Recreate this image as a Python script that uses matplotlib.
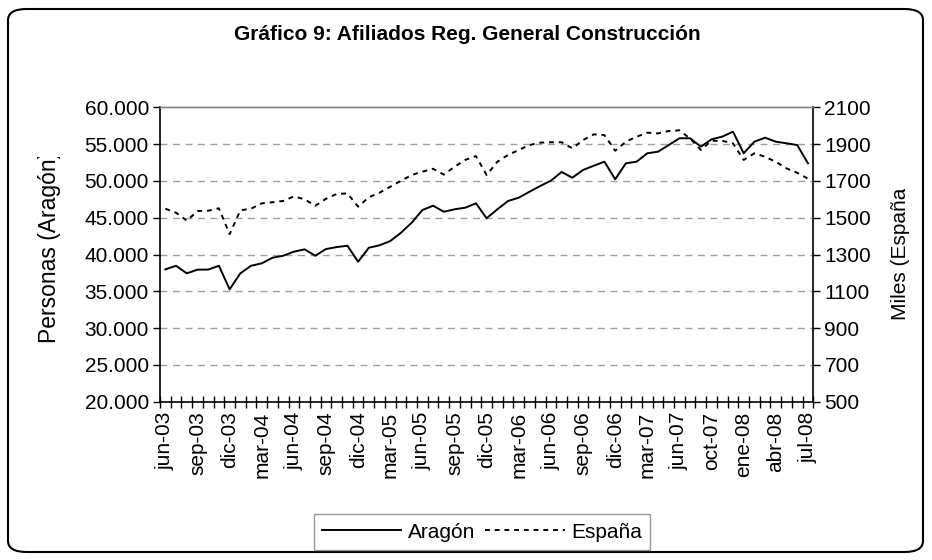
import matplotlib
matplotlib.use('Agg')
import matplotlib.pyplot as plt
from matplotlib.patches import FancyBboxPatch
from matplotlib.transforms import Bbox, TransformedBbox
from matplotlib.lines import Line2D
from matplotlib.ticker import FuncFormatter, FixedLocator

plt.rcParams['font.family'] = ['Liberation Sans', 'DejaVu Sans']

months = ['jun-03', 'jul-03', 'ago-03', 'sep-03', 'oct-03', 'nov-03', 'dic-03',
          'ene-04', 'feb-04', 'mar-04', 'abr-04', 'may-04', 'jun-04', 'jul-04', 'ago-04',
          'sep-04', 'oct-04', 'nov-04', 'dic-04',
          'ene-05', 'feb-05', 'mar-05', 'abr-05', 'may-05', 'jun-05', 'jul-05', 'ago-05',
          'sep-05', 'oct-05', 'nov-05', 'dic-05',
          'ene-06', 'feb-06', 'mar-06', 'abr-06', 'may-06', 'jun-06', 'jul-06', 'ago-06',
          'sep-06', 'oct-06', 'nov-06', 'dic-06',
          'ene-07', 'feb-07', 'mar-07', 'abr-07', 'may-07', 'jun-07', 'jul-07', 'ago-07',
          'oct-07', 'nov-07', 'dic-07',
          'ene-08', 'feb-08', 'mar-08', 'abr-08', 'may-08', 'jun-08', 'jul-08']

aragon = [37980, 38470, 37440, 37940, 37950, 38470, 35270, 37440, 38470, 38800,
          39560, 39830, 40380, 40700, 39830, 40740, 41010, 41190, 39020, 40920,
          41250, 41830, 42960, 44320, 46040, 46630, 45810, 46140, 46360, 46950,
          44920, 46140, 47270, 47720, 48530, 49310, 50030, 51210, 50430, 51480,
          52060, 52610, 50220, 52390, 52610, 53750, 53970, 54870, 55790, 55790,
          54650, 55650, 56010, 56690, 53750, 55330, 55870, 55330, 55110, 54870,
          52390]

espana = [1549, 1527, 1484, 1536, 1538, 1551, 1410, 1540, 1549, 1578,
          1584, 1591, 1616, 1600, 1565, 1603, 1629, 1632, 1560, 1611,
          1636, 1668, 1701, 1732, 1750, 1766, 1734, 1777, 1814, 1835,
          1732, 1804, 1841, 1868, 1895, 1908, 1910, 1910, 1877, 1922,
          1953, 1949, 1864, 1913, 1940, 1962, 1958, 1971, 1975, 1930,
          1868, 1918, 1918, 1904, 1814, 1850, 1831, 1804, 1768, 1744,
          1712]

W, H = 932, 560
FS = 15

fig = plt.figure(figsize=(W / 100, H / 100), dpi=100)

# outer rounded frame
frame = FancyBboxPatch((8 / W, 8 / H), (W - 17) / W, (H - 17) / H,
                       boxstyle="round,pad=0,rounding_size=0.02",
                       transform=fig.transFigure, fill=False,
                       edgecolor='black', linewidth=1.5, zorder=0)
fig.patches.append(frame)

L, R, T, B = 160, 813.3, 107.3, 401.7
ax = fig.add_axes([L / W, 1 - B / H, (R - L) / W, (B - T) / H])
ax2 = ax.twinx()

x = list(range(len(months)))

# grid lines
for v in range(25000, 60000, 5000):
    ax.axhline(v, color='#A0A0A0', linewidth=1.0, linestyle=(0, (5, 4)), zorder=1)

ax.plot(x, aragon, color='black', linewidth=1.4, zorder=3)
ax2.plot(x, espana, color='black', linewidth=1.4, linestyle=(0, (2.5, 2.5)), zorder=3)

ax.set_xlim(-0.5, len(months) - 0.5)
ax.set_ylim(20000, 60000)
ax2.set_ylim(500, 2100)

ax.set_yticks(list(range(20000, 60001, 5000)))
ax.yaxis.set_major_formatter(FuncFormatter(lambda v, p: f"{v:,.0f}".replace(',', '.')))
ax2.set_yticks(list(range(500, 2101, 200)))

lab_idx = list(range(0, len(months), 3))
ax.set_xticks(lab_idx)
ax.set_xticklabels([months[i] for i in lab_idx], rotation=90, fontsize=FS)
ax.xaxis.set_minor_locator(FixedLocator([i - 0.5 for i in range(len(months) + 1)]))
ax.tick_params(axis='x', which='major', length=0, pad=7)
ax.tick_params(axis='x', which='minor', length=8, direction='inout', width=1, color='black')
ax.tick_params(axis='y', which='major', length=5, direction='out', width=1,
               labelsize=FS, pad=3)
ax2.tick_params(axis='y', which='major', length=5, direction='out', width=1,
                labelsize=FS, pad=3)

for a in (ax, ax2):
    a.spines['top'].set_color('#808080')
    a.spines['top'].set_linewidth(1.0)
ax.spines['left'].set_color('black')
ax.spines['bottom'].set_color('black')
ax2.spines['right'].set_color('black')
ax2.spines['left'].set_visible(False)
ax2.spines['bottom'].set_visible(False)
ax.spines['right'].set_visible(False)
for s in ('left', 'bottom'):
    ax.spines[s].set_linewidth(1.2)
ax2.spines['right'].set_linewidth(1.2)

ax.set_zorder(ax2.get_zorder() - 1)
ax2.patch.set_visible(False)

# title
fig.text(467 / W, 1 - 34 / H, 'Gráfico 9: Afiliados Reg. General Construcción',
         ha='center', va='center', fontsize=15, fontweight='bold')

# axis labels (clipped at the top like the original)
t1 = fig.text(50 / W, 1 - 343 / H, 'Personas (Aragón)', rotation=90,
              ha='center', va='bottom', fontsize=16.5)
t1.set_clip_box(TransformedBbox(Bbox([[0, 0], [1, 1 - 157 / H]]), fig.transFigure))
t1.set_clip_on(True)
t2 = fig.text(901 / W, 1 - 320 / H, 'Miles (España)', rotation=90,
              ha='center', va='bottom', fontsize=FS)
t2.set_clip_box(TransformedBbox(Bbox([[0, 0], [1, 1 - 189 / H]]), fig.transFigure))
t2.set_clip_on(True)

handles = [Line2D([], [], color='black', linewidth=1.4),
           Line2D([], [], color='black', linewidth=1.4, linestyle=(0, (2.5, 2.5)))]
leg = fig.legend(handles, ['Aragón', 'España'], loc='center',
                 bbox_to_anchor=(482 / W, 1 - 532 / H), ncol=2, fontsize=FS,
                 frameon=True, fancybox=False, edgecolor='#808080',
                 handlelength=3.8, handletextpad=0.3, columnspacing=0.5,
                 borderpad=0.4)
leg.get_frame().set_linewidth(1.0)

fig.savefig('out.png', dpi=100)
